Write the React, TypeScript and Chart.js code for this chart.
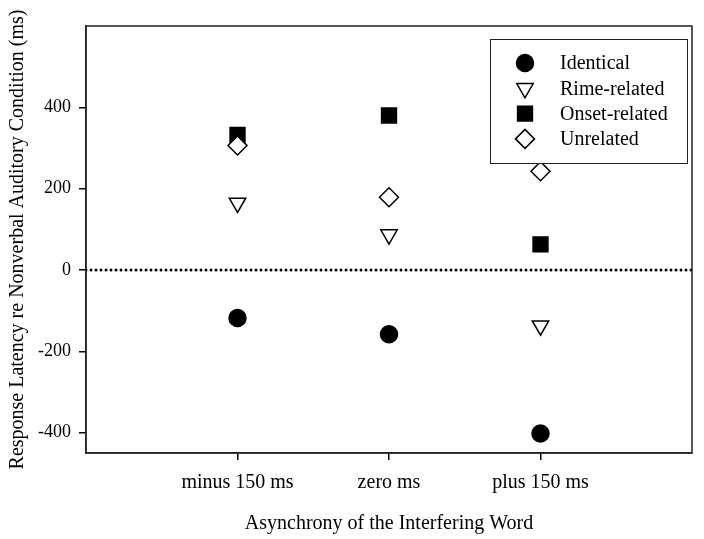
import React, { useEffect, useRef } from 'react';
import { Chart, registerables } from 'chart.js';
import { drawPoint } from 'chart.js/helpers';

Chart.register(...registerables);

// ---- data ----
const CATEGORIES = ['minus 150 ms', 'zero ms', 'plus 150 ms'];
const CATEGORY_POS = [1, 2, 3];
const IDENTICAL = [-118, -158, -402];
const RIME_RELATED = [165, 87, -137];
const ONSET_RELATED = [332, 380, 63];
const UNRELATED = [306, 179, 243];
const SERIES_NAMES = ['Identical', 'Rime-related', 'Onset-related', 'Unrelated'];
const Y_TICKS = [-400, -200, 0, 200, 400];
const Y_RANGE = [-450, 600];
const X_RANGE = [0, 4];
const ZERO_LINE_X = [0, 4];
const ZERO_LINE_Y = [0, 0];

const FONT = '"Liberation Serif", "Times New Roman", serif';

const toPoints = (vals: number[]) => vals.map((v, i) => ({ x: CATEGORY_POS[i], y: v }));

const frameAndLegend = {
  id: 'frameAndLegend',
  afterDatasetsDraw(chart: any) {
    const { ctx, chartArea } = chart;
    ctx.save();
    ctx.strokeStyle = '#222';
    ctx.lineWidth = 1.5;
    ctx.strokeRect(chartArea.left, chartArea.top, chartArea.right - chartArea.left, chartArea.bottom - chartArea.top);

    // legend box
    const bx = 490, by = 39, bw = 197, bh = 124;
    ctx.fillStyle = '#fff';
    ctx.fillRect(bx, by, bw, bh);
    ctx.strokeStyle = '#222';
    ctx.lineWidth = 1;
    ctx.strokeRect(bx + 0.5, by + 0.5, bw, bh);

    const series = chart.data.datasets.filter((d: any) => d.isSeries);
    series.forEach((d: any, i: number) => {
      const y = by + 24 + i * 25.3;
      const x = bx + 35;
      ctx.fillStyle = d.pointBackgroundColor;
      ctx.strokeStyle = d.pointBorderColor;
      ctx.lineWidth = d.pointBorderWidth;
      drawPoint(ctx, {
        pointStyle: d.pointStyle,
        rotation: d.pointRotation || 0,
        radius: d.pointRadius,
        borderWidth: d.pointBorderWidth,
      }, x, y);
      ctx.fillStyle = '#000';
      ctx.font = `20px ${FONT}`;
      ctx.textAlign = 'left';
      ctx.textBaseline = 'middle';
      ctx.fillText(d.label, bx + 70, y + 1);
    });
    ctx.restore();
  },
};

export default function App() {
  const ref = useRef<HTMLCanvasElement>(null);
  useEffect(() => {
    if (!ref.current) return;
    const mk = (label: string, vals: number[], style: string, fill: string, radius: number, order: number, rotation = 0) => ({
      label,
      isSeries: true,
      type: 'scatter',
      data: toPoints(vals),
      pointStyle: style,
      pointRadius: radius,
      pointHoverRadius: radius,
      pointRotation: rotation,
      pointBackgroundColor: fill,
      pointBorderColor: '#000',
      pointBorderWidth: 1.5,
      showLine: false,
      order,
    });
    const chart = new Chart(ref.current, {
      type: 'scatter',
      data: {
        datasets: [
          mk(SERIES_NAMES[0], IDENTICAL, 'circle', '#000', 8.5, 4),
          mk(SERIES_NAMES[1], RIME_RELATED, 'triangle', '#fff', 9.5, 3, 180),
          mk(SERIES_NAMES[2], ONSET_RELATED, 'rect', '#000', 10.5, 2),
          mk(SERIES_NAMES[3], UNRELATED, 'rectRot', '#fff', 9.5, 1),
          {
            label: 'zero',
            type: 'line',
            data: ZERO_LINE_X.map((x, i) => ({ x, y: ZERO_LINE_Y[i] })),
            borderColor: '#000',
            borderWidth: 3,
            borderDash: [0, 5],
            borderCapStyle: 'round',
            pointRadius: 0,
            fill: false,
            order: 10,
          } as any,
        ] as any,
      },
      options: {
        animation: false,
        responsive: false,
        devicePixelRatio: 1,
        layout: { padding: { top: 26, right: 7, left: 0, bottom: 0 } },
        plugins: { legend: { display: false }, tooltip: { enabled: false } },
        scales: {
          x: {
            type: 'linear',
            min: X_RANGE[0],
            max: X_RANGE[1],
            afterBuildTicks: (s: any) => { s.ticks = CATEGORY_POS.map((v) => ({ value: v })); },
            afterFit: (s: any) => { s.height = 86; },
            ticks: {
              callback: (v: any) => CATEGORIES[CATEGORY_POS.indexOf(Number(v))] ?? '',
              font: { family: FONT, size: 20 },
              color: '#000',
              padding: 11,
              maxRotation: 0,
              autoSkip: false,
            },
            grid: { drawOnChartArea: false, drawTicks: true, tickLength: 7, color: '#000', lineWidth: 1.5 },
            border: { display: true, color: '#222', width: 1.5 },
            title: {
              display: true,
              text: 'Asynchrony of the Interfering Word',
              font: { family: FONT, size: 20 },
              color: '#000',
              padding: { top: 0, bottom: 3 },
            },
          },
          y: {
            min: Y_RANGE[0],
            max: Y_RANGE[1],
            afterBuildTicks: (s: any) => { s.ticks = Y_TICKS.map((v) => ({ value: v })); },
            afterFit: (s: any) => { s.width = 86; },
            ticks: {
              font: { family: FONT, size: 18 },
              color: '#000',
              padding: 8,
            },
            grid: { drawOnChartArea: false, drawTicks: true, tickLength: 7, color: '#000', lineWidth: 1.5 },
            border: { display: true, color: '#222', width: 1.5 },
            title: {
              display: true,
              text: 'Response Latency re Nonverbal Auditory Condition (ms)',
              font: { family: FONT, size: 20 },
              color: '#000',
              padding: { top: 6, bottom: 0 },
            },
          },
        },
      } as any,
      plugins: [frameAndLegend],
    });
    return () => chart.destroy();
  }, []);
  return (
    <div style={{ position: 'absolute', left: 0, top: 0, width: 704, height: 539, background: '#fff' }}>
      <canvas ref={ref} width={704} height={539} />
    </div>
  );
}
